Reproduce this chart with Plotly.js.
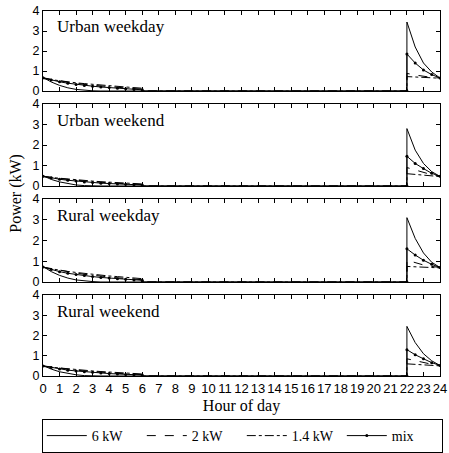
<!DOCTYPE html>
<html>
<head>
<meta charset="utf-8">
<script src="https://cdn.plot.ly/plotly-3.0.1.min.js"></script>
<style>html,body{margin:0;padding:0;background:#fff;}#chart{width:449px;height:453px;}</style>
</head>
<body>
<div id="chart"></div>
<script>
// Shared hour grid: 0..6 h (overnight tail), zero plateau 6..22 h, evening peak 22..24 h
const hours = [0,0.5,1,1.5,2,2.5,3,3.5,4,4.5,5,5.5,6, 6,22, 22,22.5,23,23.5,24];

const panelNames = ["Urban weekday","Urban weekend","Rural weekday","Rural weekend"];
const seriesNames = ["6 kW","2 kW","1.4 kW","mix"];

// Urban weekday
const uwd6   = [0.68,0.45,0.28,0.16,0.08,0.03,0.01,0,0,0,0,0,0, 0,0, 3.45,2.2,1.4,0.95,0.65];
const uwd2   = [0.66,0.58,0.5,0.44,0.38,0.33,0.29,0.25,0.22,0.18,0.15,0.12,0.1, 0,0, 0.88,0.8,0.73,0.68,0.65];
const uwd14  = [0.62,0.56,0.5,0.45,0.41,0.37,0.33,0.3,0.27,0.23,0.2,0.17,0.14, 0,0, 0.72,0.7,0.68,0.66,0.64];
const uwdMix = [0.66,0.55,0.46,0.39,0.33,0.28,0.24,0.2,0.17,0.14,0.11,0.08,0.06, 0,0, 1.85,1.4,1.05,0.82,0.65];
// Urban weekend
const uwe6   = [0.5,0.32,0.2,0.11,0.05,0.02,0,0,0,0,0,0,0, 0,0, 2.8,1.75,1.1,0.7,0.47];
const uwe2   = [0.48,0.42,0.37,0.32,0.28,0.24,0.21,0.18,0.15,0.13,0.11,0.09,0.07, 0,0, 0.9,0.78,0.65,0.55,0.47];
const uwe14  = [0.45,0.41,0.37,0.33,0.3,0.27,0.24,0.21,0.19,0.17,0.14,0.12,0.1, 0,0, 0.6,0.56,0.52,0.49,0.46];
const uweMix = [0.48,0.4,0.33,0.28,0.24,0.2,0.17,0.14,0.12,0.1,0.08,0.06,0.05, 0,0, 1.45,1.1,0.85,0.62,0.47];
// Rural weekday
const rwd6   = [0.75,0.5,0.32,0.19,0.1,0.05,0.02,0,0,0,0,0,0, 0,0, 3.1,2.1,1.4,0.95,0.7];
const rwd2   = [0.72,0.64,0.56,0.49,0.43,0.37,0.32,0.28,0.24,0.2,0.17,0.14,0.11, 0,0, 1.05,0.92,0.82,0.75,0.7];
const rwd14  = [0.7,0.63,0.57,0.51,0.46,0.41,0.37,0.33,0.29,0.26,0.22,0.19,0.16, 0,0, 0.75,0.73,0.71,0.7,0.68];
const rwdMix = [0.72,0.6,0.5,0.42,0.36,0.31,0.26,0.22,0.19,0.16,0.13,0.1,0.08, 0,0, 1.6,1.3,1.05,0.85,0.7];
// Rural weekend
const rwe6   = [0.52,0.34,0.21,0.12,0.06,0.02,0,0,0,0,0,0,0, 0,0, 2.45,1.65,1.1,0.75,0.52];
const rwe2   = [0.5,0.44,0.38,0.33,0.29,0.25,0.21,0.18,0.16,0.13,0.11,0.09,0.07, 0,0, 0.85,0.75,0.66,0.58,0.52];
const rwe14  = [0.47,0.43,0.38,0.34,0.31,0.28,0.25,0.22,0.2,0.17,0.15,0.13,0.1, 0,0, 0.6,0.58,0.55,0.53,0.5];
const rweMix = [0.5,0.42,0.35,0.29,0.25,0.21,0.18,0.15,0.12,0.1,0.08,0.06,0.05, 0,0, 1.3,1.05,0.85,0.66,0.52];

const xTickVals = [0,1,2,3,4,5,6,7,8,9,10,11,12,13,14,15,16,17,18,19,20,21,22,23,24];
const xTickText = ["0","1","2","3","4","5","6","7","8","9","10","11","12","13","14","15","16","17","18","19","20","21","22","23","24"];
const yTickVals = [0,1,2,3,4];
const yTickText = ["0","1","2","3","4"];

const panels = [
  [uwd6, uwd2, uwd14, uwdMix],
  [uwe6, uwe2, uwe14, uweMix],
  [rwd6, rwd2, rwd14, rwdMix],
  [rwe6, rwe2, rwe14, rweMix]
];

const styles = [
  {line:{color:'black', width:1, dash:'solid'}, mode:'lines'},
  {line:{color:'black', width:1, dash:'dash'}, mode:'lines'},
  {line:{color:'black', width:1, dash:'dashdot'}, mode:'lines'},
  {line:{color:'black', width:1, dash:'solid'}, mode:'lines+markers', marker:{color:'black', size:3, symbol:'circle'}}
];

const traces = [];
panels.forEach((ser, p) => {
  ser.forEach((ys, s) => {
    const t = {
      x: hours, y: ys, name: seriesNames[s], type: 'scatter',
      xaxis: p === 0 ? 'x' : 'x' + (p + 1),
      yaxis: p === 0 ? 'y' : 'y' + (p + 1),
      legendgroup: seriesNames[s],
      showlegend: p === 0,
      line: styles[s].line, mode: styles[s].mode
    };
    if (styles[s].marker) t.marker = styles[s].marker;
    traces.push(t);
  });
});

// Panel pixel extents (top/bottom) -> paper domains
const H = 453, T = 11, B = 77;
const plotH = H - T - B;
const tops = [11, 104, 199, 295];
const bots = [91, 186, 282, 376];
const domains = tops.map((t, i) => [(376 - bots[i]) / plotH, (376 - t) / plotH]);

const sans = 'Liberation Sans, Arial, sans-serif';
const serif = 'Liberation Serif, Times New Roman, serif';

const layout = {
  width: 449, height: 453,
  margin: {l: 43, r: 9, t: T, b: B, autoexpand: false},
  paper_bgcolor: 'white', plot_bgcolor: 'white',
  showlegend: true,
  legend: {
    orientation: 'h', x: -0.003, xanchor: 'left', y: (376 - 453) / plotH, yanchor: 'bottom',
    bordercolor: 'black', borderwidth: 1, bgcolor: 'white',
    font: {family: serif, size: 14, color: 'black'},
    tracegroupgap: 0, itemwidth: 40, entrywidth: 45, entrywidthmode: 'pixels'
  },
  annotations: [],
  font: {family: sans, color: 'black'}
};

for (let p = 0; p < 4; p++) {
  const xa = p === 0 ? 'xaxis' : 'xaxis' + (p + 1);
  const ya = p === 0 ? 'yaxis' : 'yaxis' + (p + 1);
  const yref = p === 0 ? 'y' : 'y' + (p + 1);
  layout[xa] = {
    domain: [0, 1], anchor: yref, range: [0, 24],
    tickmode: 'array', tickvals: xTickVals, ticktext: xTickText,
    showticklabels: p === 3, ticks: 'inside', ticklen: 4, tickwidth: 1, tickcolor: 'black',
    showline: true, linecolor: 'black', linewidth: 1, mirror: 'ticks',
    showgrid: false, zeroline: false,
    tickfont: {family: sans, size: 13, color: 'black'}
  };
  if (p === 3) {
    layout[xa].title = {text: 'Hour of day', font: {family: serif, size: 16, color: 'black'}, standoff: 5};
  }
  layout[ya] = {
    domain: domains[p], anchor: p === 0 ? 'x' : 'x' + (p + 1), range: [0, 4],
    tickmode: 'array', tickvals: yTickVals, ticktext: yTickText,
    ticks: 'inside', ticklen: 4, tickwidth: 1, tickcolor: 'black',
    showline: true, linecolor: 'black', linewidth: 1, mirror: 'ticks',
    showgrid: false, zeroline: false,
    tickfont: {family: sans, size: 12.5, color: 'black'}
  };
  layout.annotations.push({
    text: panelNames[p], xref: (p === 0 ? 'x' : 'x' + (p + 1)) + ' domain',
    yref: yref + ' domain', x: 0.03, y: 0.8, xanchor: 'left', yanchor: 'middle',
    showarrow: false, font: {family: serif, size: 17, color: 'black'}
  });
}

layout.annotations.push({
  text: 'Power (kW)', xref: 'paper', yref: 'paper', x: -0.07, y: 0.5,
  xanchor: 'center', yanchor: 'middle', textangle: -90, showarrow: false,
  font: {family: serif, size: 16, color: 'black'}
});

Plotly.newPlot('chart', traces, layout, {displayModeBar: false, staticPlot: true});
</script>
</body>
</html>
